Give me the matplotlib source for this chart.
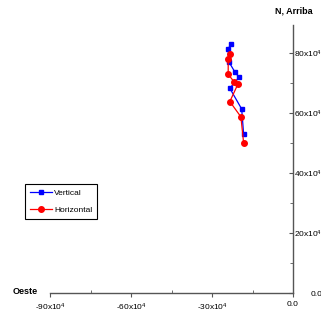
import matplotlib
matplotlib.use("Agg")
import matplotlib.pyplot as plt
from matplotlib.ticker import FuncFormatter, FixedLocator

plt.rcParams['font.family'] = ['Liberation Sans', 'DejaVu Sans']
plt.rcParams['mathtext.default'] = 'regular'

# readings (x in units of 10^4)
vert_x = [-23.1, -24.0, -23.8, -21.5, -20.0, -23.4, -19.0, -18.3]
vert_y = [82.9, 81.3, 77.1, 73.6, 71.9, 68.2, 61.3, 53.0]
hor_x = [-23.2, -24.0, -24.0, -21.7, -20.3, -23.4, -19.3, -18.3]
hor_y = [79.6, 78.0, 72.9, 70.2, 69.8, 63.8, 58.7, 50.1]

x_major = [-90, -60, -30, 0]
x_minor = [-75, -45, -15]
y_major = [0, 20, 40, 60, 80]
y_minor = [10, 30, 50, 70]


def fmt(v, pos):
    """tick label like 80x10^4, zero as 0.0"""
    if v == 0:
        return "0.0"
    return "%dx10$^4$" % v


W, H = 321, 322
fig = plt.figure(figsize=(W / 100, H / 100), dpi=100)
ax = fig.add_axes([50 / W, 1 - 293 / H, 243 / W, 268 / H])

ax.plot(vert_x, vert_y, color='#0000ff', marker='s', markersize=3.5,
        linewidth=0.9, label='Vertical')
ax.plot(hor_x, hor_y, color='#ff0000', marker='o', markersize=4,
        linewidth=0.9, label='Horizontal')

ax.set_xlim(-90, 0)
ax.set_ylim(0, 89.3)

for s in ['top', 'left']:
    ax.spines[s].set_visible(False)
for s in ['bottom', 'right']:
    ax.spines[s].set_color('#555555')
    ax.spines[s].set_linewidth(1.0)

ax.xaxis.set_major_locator(FixedLocator(x_major))
ax.xaxis.set_minor_locator(FixedLocator(x_minor))
ax.yaxis.set_major_locator(FixedLocator(y_major))
ax.yaxis.set_minor_locator(FixedLocator(y_minor))
ax.xaxis.set_major_formatter(FuncFormatter(fmt))
ax.yaxis.set_major_formatter(FuncFormatter(fmt))

ax.yaxis.tick_right()
ax.tick_params(axis='x', which='major', direction='out', length=3,
               color='#555555', labelsize=6, pad=3)
ax.tick_params(axis='x', which='minor', direction='in', length=2,
               color='#555555')
ax.tick_params(axis='y', which='major', direction='in', length=3,
               color='#555555', labelsize=6, pad=21)
ax.tick_params(axis='y', which='minor', direction='in', length=2,
               color='#555555')
for lbl in ax.get_yticklabels():
    lbl.set_horizontalalignment('right')

fig.text(294 / W, 1 - 11 / H, 'N, Arriba', ha='center', va='center',
         fontsize=6.5, weight='bold')
fig.text(25 / W, 1 - 291 / H, 'Oeste', ha='center', va='center',
         fontsize=6.5, weight='bold')

leg = ax.legend(loc='upper left', bbox_to_anchor=(25 / W, 1 - 184 / H),
                bbox_transform=fig.transFigure, fontsize=6,
                fancybox=False, framealpha=1, edgecolor='black',
                handlelength=2.6, handletextpad=0.3, labelspacing=1.1,
                borderpad=0.6, borderaxespad=0)
leg.get_frame().set_linewidth(0.8)

plt.savefig("out.png", dpi=100)
